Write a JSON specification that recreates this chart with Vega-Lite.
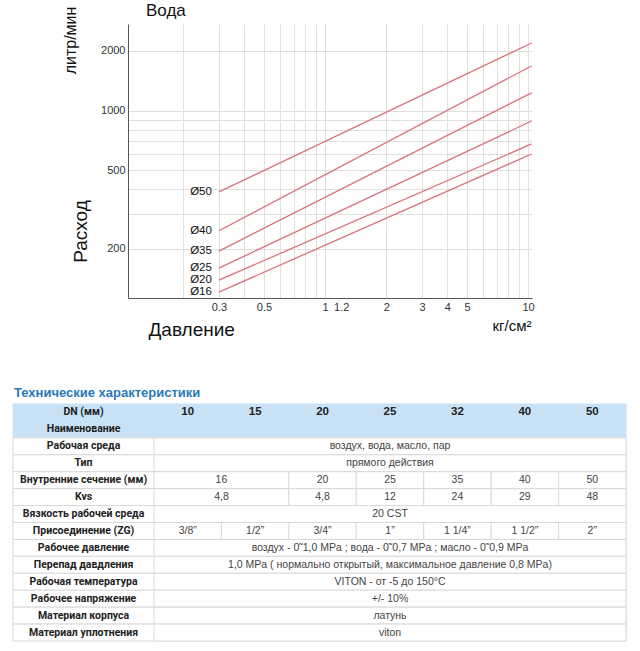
{
  "$schema": "https://vega.github.io/schema/vega-lite/v6.json",
  "background": "white",
  "padding": {"left": 12, "top": 2, "right": 0, "bottom": 0},
  "spacing": 47,
  "config": {"view": {"stroke": null}, "font": "Liberation Sans"},
  "datasets": {
    "flow": [
      {"d": "Ø50", "p": 0.3, "q": 388}, {"d": "Ø50", "p": 10.4, "q": 2193},
      {"d": "Ø40", "p": 0.3, "q": 247}, {"d": "Ø40", "p": 10.4, "q": 1679},
      {"d": "Ø35", "p": 0.3, "q": 195}, {"d": "Ø35", "p": 10.4, "q": 1227},
      {"d": "Ø25", "p": 0.3, "q": 160}, {"d": "Ø25", "p": 10.4, "q": 885},
      {"d": "Ø20", "p": 0.3, "q": 139}, {"d": "Ø20", "p": 10.4, "q": 678},
      {"d": "Ø16", "p": 0.3, "q": 121}, {"d": "Ø16", "p": 10.4, "q": 603}
    ],
    "rows": [
      {"row": "DN (мм)", "hdr": true},
      {"row": "Наименование", "hdr": true},
      {"row": "Рабочая среда", "hdr": false},
      {"row": "Тип", "hdr": false},
      {"row": "Внутренние сечение (мм)", "hdr": false},
      {"row": "Kvs", "hdr": false},
      {"row": "Вязкость рабочей среда", "hdr": false},
      {"row": "Присоединение (ZG)", "hdr": false},
      {"row": "Рабочее давление", "hdr": false},
      {"row": "Перепад давдления", "hdr": false},
      {"row": "Рабочая температура", "hdr": false},
      {"row": "Рабочее напряжение", "hdr": false},
      {"row": "Материал корпуса", "hdr": false},
      {"row": "Материал уплотнения", "hdr": false}
    ],
    "cells": [
      {"row": "DN (мм)", "c0": 0, "c1": 1, "t": "10"},
      {"row": "DN (мм)", "c0": 1, "c1": 2, "t": "15"},
      {"row": "DN (мм)", "c0": 2, "c1": 3, "t": "20"},
      {"row": "DN (мм)", "c0": 3, "c1": 4, "t": "25"},
      {"row": "DN (мм)", "c0": 4, "c1": 5, "t": "32"},
      {"row": "DN (мм)", "c0": 5, "c1": 6, "t": "40"},
      {"row": "DN (мм)", "c0": 6, "c1": 7, "t": "50"},
      {"row": "Рабочая среда", "c0": 0, "c1": 7, "t": "воздух, вода, масло, пар"},
      {"row": "Тип", "c0": 0, "c1": 7, "t": "прямого действия"},
      {"row": "Внутренние сечение (мм)", "c0": 0, "c1": 2, "t": "16"},
      {"row": "Внутренние сечение (мм)", "c0": 2, "c1": 3, "t": "20"},
      {"row": "Внутренние сечение (мм)", "c0": 3, "c1": 4, "t": "25"},
      {"row": "Внутренние сечение (мм)", "c0": 4, "c1": 5, "t": "35"},
      {"row": "Внутренние сечение (мм)", "c0": 5, "c1": 6, "t": "40"},
      {"row": "Внутренние сечение (мм)", "c0": 6, "c1": 7, "t": "50"},
      {"row": "Kvs", "c0": 0, "c1": 2, "t": "4,8"},
      {"row": "Kvs", "c0": 2, "c1": 3, "t": "4,8"},
      {"row": "Kvs", "c0": 3, "c1": 4, "t": "12"},
      {"row": "Kvs", "c0": 4, "c1": 5, "t": "24"},
      {"row": "Kvs", "c0": 5, "c1": 6, "t": "29"},
      {"row": "Kvs", "c0": 6, "c1": 7, "t": "48"},
      {"row": "Вязкость рабочей среда", "c0": 0, "c1": 7, "t": "20 CST"},
      {"row": "Присоединение (ZG)", "c0": 0, "c1": 1, "t": "3/8”"},
      {"row": "Присоединение (ZG)", "c0": 1, "c1": 2, "t": "1/2”"},
      {"row": "Присоединение (ZG)", "c0": 2, "c1": 3, "t": "3/4”"},
      {"row": "Присоединение (ZG)", "c0": 3, "c1": 4, "t": "1”"},
      {"row": "Присоединение (ZG)", "c0": 4, "c1": 5, "t": "1 1/4”"},
      {"row": "Присоединение (ZG)", "c0": 5, "c1": 6, "t": "1 1/2”"},
      {"row": "Присоединение (ZG)", "c0": 6, "c1": 7, "t": "2”"},
      {"row": "Рабочее давление", "c0": 0, "c1": 7, "t": "воздух - 0˜1,0 MPa ; вода - 0˜0,7 MPa ; масло - 0˜0,9 MPa"},
      {"row": "Перепад давдления", "c0": 0, "c1": 7, "t": "1,0 MPa ( нормально открытый, максимальное давление 0,8 MPa)"},
      {"row": "Рабочая температура", "c0": 0, "c1": 7, "t": "VITON - от -5 до 150°C"},
      {"row": "Рабочее напряжение", "c0": 0, "c1": 7, "t": "+/- 10%"},
      {"row": "Материал корпуса", "c0": 0, "c1": 7, "t": "латунь"},
      {"row": "Материал уплотнения", "c0": 0, "c1": 7, "t": "viton"}
    ]
  },
  "vconcat": [
    {
      "title": {"text": "Вода", "anchor": "start", "frame": "group", "dx": 18, "offset": -27, "baseline": "alphabetic", "fontSize": 17, "fontWeight": "normal", "color": "#111"},
      "width": 404,
      "height": 274,
      "resolve": {"scale": {"x": "independent", "y": "independent"}},
      "layer": [
        {
          "data": {"name": "flow"},
          "mark": {"type": "line", "color": "#d8737a", "strokeWidth": 1.3},
          "encoding": {
            "x": {"field": "p", "type": "quantitative",
              "scale": {"type": "log", "domain": [0.107, 10.45], "nice": false},
              "axis": {"values": [0.3, 0.5, 1, 1.2, 2, 3, 4, 5, 10], "format": "~g", "grid": false, "ticks": false,
                "domainColor": "#555", "labelFontSize": 11, "labelColor": "#333", "labelPadding": 3, "labelFlush": false, "labelOverlap": false,
                "title": "кг/см²", "titleX": 403, "titleY": 32, "titleAlign": "right", "titleBaseline": "alphabetic", "titleAngle": 0,
                "titleFontSize": 15, "titleFontWeight": "normal", "titleColor": "#111"}},
            "y": {"field": "q", "type": "quantitative",
              "scale": {"type": "log", "domain": [113, 2735], "nice": false},
              "axis": {"values": [200, 500, 1000, 2000], "format": "~g", "grid": false, "ticks": false,
                "domainColor": "#555", "labelFontSize": 11, "labelColor": "#333", "labelPadding": 3, "minExtent": 115,
                "title": "Расход", "titleX": -48, "titleY": 207, "titleAngle": -90, "titleAlign": "center", "titleBaseline": "middle",
                "titleFontSize": 19, "titleFontWeight": "normal", "titleColor": "#111"}},
            "detail": {"field": "d"}
          }
        },
        {
          "data": {"name": "flow"},
          "transform": [{"filter": "datum.p < 1"}],
          "mark": {"type": "text", "align": "right", "baseline": "middle", "dx": -7, "fontSize": 11.5, "color": "#111"},
          "encoding": {
            "x": {"field": "p", "type": "quantitative",
              "scale": {"type": "log", "domain": [0.107, 10.45], "nice": false},
              "axis": {"orient": "bottom", "values": [0.2, 0.3, 0.4, 0.5, 0.6, 0.7, 0.8, 0.9, 1, 2, 3, 4, 5, 6, 7, 8, 9, 10],
                "grid": true, "gridColor": "#e0e0e0", "labels": false, "ticks": false, "domain": false,
                "title": "Давление", "titleX": 20, "titleY": 37, "titleAlign": "left", "titleBaseline": "alphabetic", "titleAngle": 0,
                "titleFontSize": 19, "titleFontWeight": "normal", "titleColor": "#111"}},
            "y": {"field": "q", "type": "quantitative",
              "scale": {"type": "log", "domain": [113, 2735], "nice": false},
              "axis": {"orient": "left", "values": [200, 300, 400, 500, 600, 700, 800, 900, 1000, 2000],
                "grid": true, "gridColor": "#e0e0e0", "labels": false, "ticks": false, "domain": false,
                "title": "литр/мин", "titleX": -58, "titleY": 16, "titleAngle": -90, "titleAlign": "center", "titleBaseline": "middle",
                "titleFontSize": 16, "titleFontWeight": "normal", "titleColor": "#111"}},
            "text": {"field": "d"}
          }
        }
      ]
    },
    {
      "title": {"text": "Технические характеристики", "anchor": "start", "frame": "group", "dx": -114, "offset": -6, "baseline": "alphabetic", "fontSize": 13, "fontWeight": "bold", "color": "#2a78b6"},
      "width": 498,
      "height": 237,
      "layer": [
        {
          "data": {"name": "rows"},
          "mark": {"type": "rect", "strokeWidth": 1},
          "encoding": {
            "x": {"datum": -2.09, "type": "quantitative", "scale": {"type": "linear", "domain": [-0.3856, 7], "nice": false, "zero": false}, "axis": null},
            "x2": {"datum": 7},
            "y": {"field": "row", "type": "nominal", "sort": null, "scale": {"paddingInner": 0, "paddingOuter": 0}, "axis": null},
            "fill": {"condition": {"test": "datum.hdr", "value": "#c8e1f5"}, "value": "#ffffff"},
            "stroke": {"condition": {"test": "datum.hdr", "value": "#c8e1f5"}, "value": "#d9d9d9"}
          }
        },
        {
          "data": {"name": "cells"},
          "transform": [{"filter": "datum.row !== 'DN (мм)'"}],
          "mark": {"type": "rect", "fill": "#ffffff", "stroke": "#d9d9d9", "strokeWidth": 1},
          "encoding": {
            "x": {"field": "c0", "type": "quantitative"},
            "x2": {"field": "c1"},
            "y": {"field": "row", "type": "nominal", "sort": null}
          }
        },
        {
          "data": {"name": "cells"},
          "transform": [{"filter": "datum.row !== 'DN (мм)'"}, {"calculate": "(datum.c0 + datum.c1) / 2", "as": "xm"}],
          "mark": {"type": "text", "font": "Liberation Sans", "fontSize": 10.5, "color": "#444", "baseline": "middle"},
          "encoding": {
            "x": {"field": "xm", "type": "quantitative"},
            "y": {"field": "row", "type": "nominal", "sort": null},
            "text": {"field": "t"}
          }
        },
        {
          "data": {"name": "cells"},
          "transform": [{"filter": "datum.row === 'DN (мм)'"}, {"calculate": "(datum.c0 + datum.c1) / 2", "as": "xm"}],
          "mark": {"type": "text", "font": "Liberation Sans", "fontSize": 11.5, "fontWeight": "bold", "color": "#222", "baseline": "middle"},
          "encoding": {
            "x": {"field": "xm", "type": "quantitative"},
            "y": {"field": "row", "type": "nominal", "sort": null},
            "text": {"field": "t"}
          }
        },
        {
          "data": {"name": "rows"},
          "mark": {"type": "text", "font": "Roboto", "fontSize": 10.5, "fontWeight": "bold", "color": "#222", "baseline": "middle"},
          "encoding": {
            "x": {"datum": -1.045, "type": "quantitative"},
            "y": {"field": "row", "type": "nominal", "sort": null},
            "text": {"field": "row"}
          }
        }
      ]
    }
  ]
}
